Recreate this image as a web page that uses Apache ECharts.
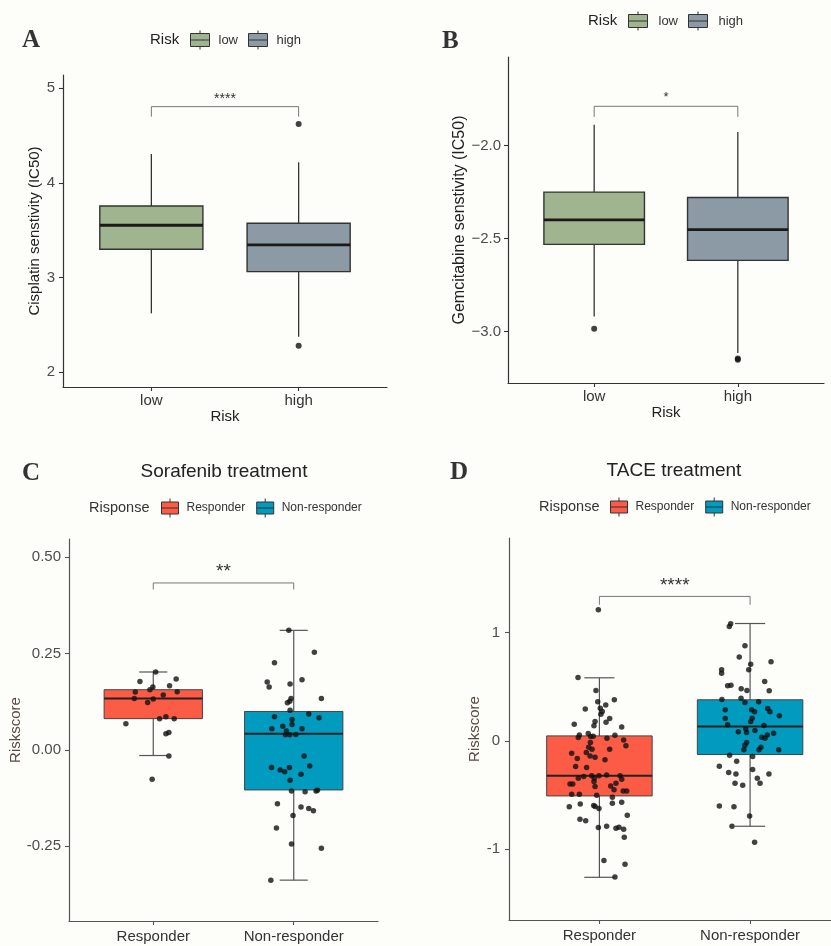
<!DOCTYPE html>
<html>
<head>
<meta charset="utf-8">
<title>Drug sensitivity / treatment response</title>
<script src="https://cdn.jsdelivr.net/npm/echarts@6/dist/echarts.min.js"></script>
<style>
html,body{margin:0;padding:0;background:#fdfdf9;}
#chartmain{width:831px;height:946px;}
</style>
</head>
<body>
<div id="chartmain"></div>
<script>
var riskGroups = ['low', 'high'];
var respGroups = ['Responder', 'Non-responder'];

// box stats [x, min, Q1, median, Q3, max]
var cisLow = [1, 2.623, 3.299, 3.553, 3.757, 4.306];
var cisHigh = [2, 2.376, 3.063, 3.345, 3.574, 4.218];
var cisOutliers = [[2, 4.623], [2, 2.281]];
var cisTicks = [2, 3, 4, 5];
var cisSig = [[1, 2, 4.806, 4.70, 4.92]];

var gemLow = [1, -2.919, -2.532, -2.400, -2.251, -1.889];
var gemHigh = [2, -3.116, -2.618, -2.453, -2.280, -1.928];
var gemOutliers = [[1, -2.985], [2, -3.146], [2, -3.152]];
var gemTicks = [-3, -2.5, -2];
var gemSig = [[1, 2, -1.790, -1.847, -1.727]];

var soraResp = [1, -0.0147, 0.081, 0.133, 0.156, 0.202];
var soraNon = [2, -0.338, -0.104, 0.0416, 0.0996, 0.310];
var soraTicks = [-0.25, 0, 0.25, 0.5];
var soraSig = [[1, 2, 0.433, 0.416, 0.4735]];

var taceResp = [1, -1.259, -0.508, -0.323, 0.046, 0.582];
var taceNon = [2, -0.788, -0.126, 0.132, 0.379, 1.083];
var taceTicks = [-1, 0, 1];
var taceSig = [[1, 2, 1.333, 1.256, 1.471]];

// jittered points [x, riskscore]
var soraRespPts = [[1.017,0.202],[0.905,0.177],[1.163,0.184],[1.116,0.166],[0.997,0.163],[0.976,0.156],[0.872,0.150],
  [1.170,0.151],[1.071,0.142],[0.865,0.133],[1.0,0.132],[0.960,0.123],[1.045,0.081],[1.090,0.086],[1.149,0.081],
  [0.805,0.068],[1.090,0.042],[1.111,0.045],[1.111,-0.016],[0.992,-0.076]];
var soraNonPts = [[1.965,0.310],[2.147,0.253],[1.863,0.226],[1.811,0.176],[1.825,0.163],[1.974,0.171],[2.059,0.182],
  [2.197,0.133],[1.981,0.133],[1.972,0.126],[1.955,0.122],[1.974,0.103],[2.107,0.093],[1.863,0.086],[2.180,0.083],
  [1.988,0.079],[1.988,0.066],[1.922,0.061],[1.844,0.055],[2.059,0.055],[1.948,0.049],[1.941,0.039],[1.972,0.039],
  [2.015,0.040],[2.074,-0.016],[1.842,-0.046],[1.903,-0.052],[1.936,-0.057],[1.970,-0.046],[2.114,-0.042],
  [2.052,-0.063],[1.974,-0.079],[1.984,-0.107],[2.081,-0.109],[2.159,-0.107],[2.169,-0.105],[1.884,-0.140],
  [2.052,-0.148],[2.107,-0.152],[2.140,-0.158],[1.995,-0.170],[1.877,-0.203],[1.984,-0.244],[2.197,-0.255],
  [1.837,-0.338]];
var taceRespPts = [[0.993,1.210],[0.858,0.585],[0.977,0.465],[1.099,0.379],[0.989,0.360],[0.906,0.293],[1.042,0.332],
  [1.006,0.302],[1.019,0.271],[1.010,0.246],[1.068,0.206],[0.833,0.154],[0.971,0.178],[1.044,0.172],[0.964,0.139],
  [1.148,0.129],[0.867,0.055],[0.860,0.031],[0.926,0.068],[0.942,0.040],[0.959,0.043],[1.103,0.052],[1.050,0.025],
  [1.161,0.009],[0.940,-0.015],[1.176,-0.046],[0.929,-0.058],[0.951,-0.077],[1.068,-0.077],[0.816,-0.114],
  [0.913,-0.108],[0.938,-0.139],[0.971,-0.151],[0.853,-0.163],[1.037,-0.175],[0.842,-0.237],[0.915,-0.246],
  [0.860,-0.345],[0.896,-0.329],[0.949,-0.323],[0.966,-0.345],[0.997,-0.323],[1.048,-0.314],[1.137,-0.323],
  [1.148,-0.354],[0.964,-0.375],[0.805,-0.397],[0.823,-0.397],[0.971,-0.422],[1.075,-0.416],[1.110,-0.391],
  [1.097,-0.452],[1.158,-0.462],[1.181,-0.462],[0.816,-0.492],[0.867,-0.492],[0.982,-0.502],[1.086,-0.520],
  [0.800,-0.609],[0.873,-0.582],[0.962,-0.597],[0.971,-0.606],[0.997,-0.625],[1.086,-0.575],[1.148,-0.566],
  [1.185,-0.686],[0.871,-0.723],[0.909,-0.736],[0.993,-0.800],[1.048,-0.788],[1.110,-0.806],[1.130,-0.797],
  [1.161,-0.815],[1.165,-0.889],[1.030,-1.105],[1.170,-1.139],[1.103,-1.256]];
var taceNonPts = [[1.871,1.080],[1.862,1.055],[1.966,0.877],[1.928,0.773],[2.139,0.729],[2.004,0.708],[1.991,0.656],
  [1.811,0.656],[1.811,0.625],[2.097,0.548],[1.873,0.514],[1.851,0.508],[1.941,0.480],[1.979,0.465],[2.127,0.462],
  [1.813,0.382],[1.940,0.394],[1.966,0.354],[2.057,0.360],[2.117,0.298],[2.132,0.268],[1.835,0.286],[2.010,0.286],
  [2.030,0.268],[2.194,0.231],[1.835,0.206],[2.014,0.209],[2.004,0.178],[1.851,0.148],[2.092,0.141],[1.971,0.111],
  [1.922,0.083],[2.032,0.095],[1.977,0.077],[2.114,0.053],[2.077,0.034],[2.099,0.025],[2.156,0.071],
  [1.977,-0.015],[1.966,-0.040],[1.959,-0.083],[2.072,-0.059],[2.059,-0.083],[2.190,-0.083],[1.864,-0.132],
  [2.017,-0.145],[1.911,-0.188],[1.796,-0.234],[2.017,-0.265],[1.858,-0.292],[1.906,-0.305],[2.125,-0.305],
  [2.048,-0.345],[1.900,-0.391],[1.951,-0.409],[2.066,-0.391],[1.796,-0.600],[1.893,-0.609],[1.997,-0.693],
  [1.880,-0.788],[2.030,-0.935]];

var font = 'Liberation Sans, Arial, sans-serif';
var boxIconRisk = 'path://M0,3H19V16H0Z M0,9.5H19 M9.5,0V3 M9.5,16V19';
var boxIconResp = 'path://M0,3.5H17V15.5H0Z M0,9.5H17 M8.5,0V3.5 M8.5,15.5V19';

// ggplot style box, drawn through the axes of its grid
function boxRenderer(st) {
    return function (params, api) {
        var x = api.value(0);
        var pMin = api.coord([x, api.value(1)]);
        var pQ1 = api.coord([x, api.value(2)]);
        var pMed = api.coord([x, api.value(3)]);
        var pQ3 = api.coord([x, api.value(4)]);
        var pMax = api.coord([x, api.value(5)]);
        var half = api.size([0.7, 0])[0] / 2;
        var cx = pMed[0];
        var kids = [
            {type: 'line', shape: {x1: cx, y1: pMax[1], x2: cx, y2: pMin[1]},
             style: {stroke: st.whisker, lineWidth: st.whiskerWidth}},
            {type: 'rect', shape: {x: cx - half, y: pQ3[1], width: half * 2, height: pQ1[1] - pQ3[1]},
             style: {fill: api.visual('color'), stroke: st.border, lineWidth: st.borderWidth}},
            {type: 'line', shape: {x1: cx - half, y1: pMed[1], x2: cx + half, y2: pMed[1]},
             style: {stroke: st.median, lineWidth: st.medianWidth}}
        ];
        if (st.cap) {
            var c = api.size([st.cap, 0])[0] / 2;
            kids.push({type: 'line', shape: {x1: cx - c, y1: pMax[1], x2: cx + c, y2: pMax[1]},
                       style: {stroke: st.whisker, lineWidth: st.whiskerWidth}});
            kids.push({type: 'line', shape: {x1: cx - c, y1: pMin[1], x2: cx + c, y2: pMin[1]},
                       style: {stroke: st.whisker, lineWidth: st.whiskerWidth}});
        }
        return {type: 'group', children: kids};
    };
}

function bracketRenderer(text, fs) {
    return function (params, api) {
        var a = api.coord([api.value(0), api.value(3)]);
        var b = api.coord([api.value(0), api.value(2)]);
        var c = api.coord([api.value(1), api.value(2)]);
        var d = api.coord([api.value(1), api.value(3)]);
        var t = api.coord([(api.value(0) + api.value(1)) / 2, api.value(4)]);
        return {type: 'group', children: [
            {type: 'polyline', shape: {points: [a, b, c, d]}, style: {stroke: '#777', lineWidth: 1, fill: 'none'}},
            {type: 'text', x: t[0], y: t[1] + fs * 0.23,
             style: {text: text, fontSize: fs, fontFamily: font, fill: '#333', align: 'center', verticalAlign: 'middle'}}
        ]};
    };
}

var riskStyle = {whisker: '#333', whiskerWidth: 1.3, border: '#333', borderWidth: 1.4, median: '#1a1a1a', medianWidth: 2.8};
var respStyle = {whisker: '#555', whiskerWidth: 1.2, border: '#444', borderWidth: 1, median: '#222', medianWidth: 2, cap: 0.2};

function xAxisFor(gi, names, max, fs, lineColor, margin, name) {
    return {
        type: 'value', gridIndex: gi, min: 0.4, max: max,
        name: name || '', nameLocation: 'middle', nameGap: 21,
        nameTextStyle: {fontSize: 15, color: '#222', fontFamily: font},
        axisLine: {onZero: false, lineStyle: {color: lineColor, width: 1.2}},
        axisTick: {show: true, length: 4, customValues: [1, 2], lineStyle: {color: lineColor, width: 1.1}},
        axisLabel: {customValues: [1, 2], margin: margin, fontSize: fs, color: '#333', fontFamily: font,
            formatter: function (v) { return names[Math.round(v) - 1]; }},
        splitLine: {show: false}
    };
}

function yAxisFor(gi, min, max, ticks, fmt, name, nameFs, nameGap, nameColor, lineColor, margin) {
    return {
        type: 'value', gridIndex: gi, min: min, max: max,
        name: name, nameLocation: 'middle', nameGap: nameGap,
        nameTextStyle: {fontSize: nameFs, color: nameColor, fontFamily: font},
        axisLine: {show: true, onZero: false, lineStyle: {color: lineColor, width: 1.2}},
        axisTick: {show: true, length: 4, customValues: ticks, lineStyle: {color: lineColor, width: 1.1}},
        axisLabel: {customValues: ticks, margin: margin, fontSize: 15, color: '#4d4d4d', fontFamily: font, formatter: fmt},
        splitLine: {show: false}
    };
}

function legendFor(names, left, top, icon, w, pad, gap, fs) {
    return {
        data: names, left: left, top: top, padding: 0, orient: 'horizontal',
        icon: icon, itemWidth: w, itemHeight: 19, itemGap: gap,
        itemStyle: {borderColor: '#333', borderWidth: 1},
        textStyle: {fontSize: fs, color: '#333', fontFamily: font, padding: [0, 0, 0, pad]}
    };
}

function label(text, x, y, fs, opt) {
    opt = opt || {};
    return {type: 'text', x: x, y: y, style: {text: text, fontSize: fs, fontFamily: opt.family || font,
        fontWeight: opt.weight || 'normal', fill: opt.color || '#222', align: opt.align || 'left', verticalAlign: 'middle'}};
}

var myChart = echarts.init(document.getElementById('chartmain'));
var option = {
    animation: false,
    backgroundColor: '#fdfdf9',
    textStyle: {fontFamily: font},
    grid: [
        {left: 63, top: 75, width: 324, height: 312, outerBoundsMode: 'none'},
        {left: 508, top: 57, width: 316, height: 326, outerBoundsMode: 'none'},
        {left: 69, top: 539, width: 309, height: 382, outerBoundsMode: 'none'},
        {left: 509, top: 538, width: 322, height: 382, outerBoundsMode: 'none'}
    ],
    xAxis: [
        xAxisFor(0, riskGroups, 2.6, 15, '#333', 6, 'Risk'),
        xAxisFor(1, riskGroups, 2.6, 15, '#333', 6, 'Risk'),
        xAxisFor(2, respGroups, 2.6, 15, '#555', 8),
        xAxisFor(3, respGroups, 2.537, 15, '#555', 8)
    ],
    yAxis: [
        yAxisFor(0, 1.845, 5.14, cisTicks, function (v) { return String(v); },
            'Cisplatin senstivity (IC50)', 15, 21, '#222', '#333', 8),
        yAxisFor(1, -3.277, -1.525, gemTicks, function (v) { return (v < 0 ? '\u2212' : '') + Math.abs(v).toFixed(1); },
            'Gemcitabine senstivity (IC50)', 16, 39, '#222', '#333', 7),
        yAxisFor(2, -0.444, 0.547, soraTicks, function (v) { return v.toFixed(2); },
            'Riskscore', 15, 44, '#594a44', '#555', 8),
        yAxisFor(3, -1.653, 1.872, taceTicks, function (v) { return String(v); },
            'Riskscore', 15, 24, '#594a44', '#555', 9)
    ],
    legend: [
        legendFor(riskGroups, 190, 30, boxIconRisk, 19, 4, 10, 13),
        legendFor(riskGroups, 628, 11, boxIconRisk, 19, 6, 10, 13),
        legendFor(respGroups, 161, 498, boxIconResp, 17, 3, 11, 12),
        legendFor(respGroups, 610, 497, boxIconResp, 17, 3, 11, 12)
    ],
    graphic: [
        label('A', 22, 41, 25, {family: 'Liberation Serif', weight: 'bold', color: '#333'}),
        label('B', 442, 42, 25, {family: 'Liberation Serif', weight: 'bold', color: '#333'}),
        label('C', 22, 474, 25, {family: 'Liberation Serif', weight: 'bold', color: '#333'}),
        label('D', 450, 473, 25, {family: 'Liberation Serif', weight: 'bold', color: '#333'}),
        label('Risk', 150, 40, 15),
        label('Risk', 588, 21, 15),
        label('Sorafenib treatment', 224, 472, 19, {align: 'center'}),
        label('TACE treatment', 674, 471, 19, {align: 'center'}),
        label('Risponse', 89, 508, 14.5, {color: '#333'}),
        label('Risponse', 539, 507, 14.5, {color: '#333'})
    ],
    series: [
        {name: 'low', type: 'custom', xAxisIndex: 0, yAxisIndex: 0, itemStyle: {color: '#a0b48f'},
         renderItem: boxRenderer(riskStyle), data: [cisLow], z: 2},
        {name: 'high', type: 'custom', xAxisIndex: 0, yAxisIndex: 0, itemStyle: {color: '#8c9aa6'},
         renderItem: boxRenderer(riskStyle), data: [cisHigh], z: 2},
        {type: 'scatter', xAxisIndex: 0, yAxisIndex: 0, symbolSize: 6, itemStyle: {color: '#111'}, data: cisOutliers, z: 3},
        {type: 'custom', xAxisIndex: 0, yAxisIndex: 0, renderItem: bracketRenderer('****', 14), data: cisSig},

        {name: 'low', type: 'custom', xAxisIndex: 1, yAxisIndex: 1, itemStyle: {color: '#a0b48f'},
         renderItem: boxRenderer(riskStyle), data: [gemLow], z: 2},
        {name: 'high', type: 'custom', xAxisIndex: 1, yAxisIndex: 1, itemStyle: {color: '#8c9aa6'},
         renderItem: boxRenderer(riskStyle), data: [gemHigh], z: 2},
        {type: 'scatter', xAxisIndex: 1, yAxisIndex: 1, symbolSize: 6, itemStyle: {color: '#111'}, data: gemOutliers, z: 3},
        {type: 'custom', xAxisIndex: 1, yAxisIndex: 1, renderItem: bracketRenderer('*', 13), data: gemSig},

        {name: 'Responder', type: 'custom', xAxisIndex: 2, yAxisIndex: 2, itemStyle: {color: '#fc5b45'},
         renderItem: boxRenderer(respStyle), data: [soraResp], z: 2},
        {name: 'Non-responder', type: 'custom', xAxisIndex: 2, yAxisIndex: 2, itemStyle: {color: '#019bbf'},
         renderItem: boxRenderer(respStyle), data: [soraNon], z: 2},
        {type: 'scatter', xAxisIndex: 2, yAxisIndex: 2, symbolSize: 5.5, itemStyle: {color: '#111'}, data: soraRespPts, z: 3},
        {type: 'scatter', xAxisIndex: 2, yAxisIndex: 2, symbolSize: 5.5, itemStyle: {color: '#111'}, data: soraNonPts, z: 3},
        {type: 'custom', xAxisIndex: 2, yAxisIndex: 2, renderItem: bracketRenderer('**', 19), data: soraSig},

        {name: 'Responder', type: 'custom', xAxisIndex: 3, yAxisIndex: 3, itemStyle: {color: '#fc5b45'},
         renderItem: boxRenderer(respStyle), data: [taceResp], z: 2},
        {name: 'Non-responder', type: 'custom', xAxisIndex: 3, yAxisIndex: 3, itemStyle: {color: '#019bbf'},
         renderItem: boxRenderer(respStyle), data: [taceNon], z: 2},
        {type: 'scatter', xAxisIndex: 3, yAxisIndex: 3, symbolSize: 5.5, itemStyle: {color: '#111'}, data: taceRespPts, z: 3},
        {type: 'scatter', xAxisIndex: 3, yAxisIndex: 3, symbolSize: 5.5, itemStyle: {color: '#111'}, data: taceNonPts, z: 3},
        {type: 'custom', xAxisIndex: 3, yAxisIndex: 3, renderItem: bracketRenderer('****', 19), data: taceSig}
    ]
};
myChart.setOption(option);
</script>
</body>
</html>
